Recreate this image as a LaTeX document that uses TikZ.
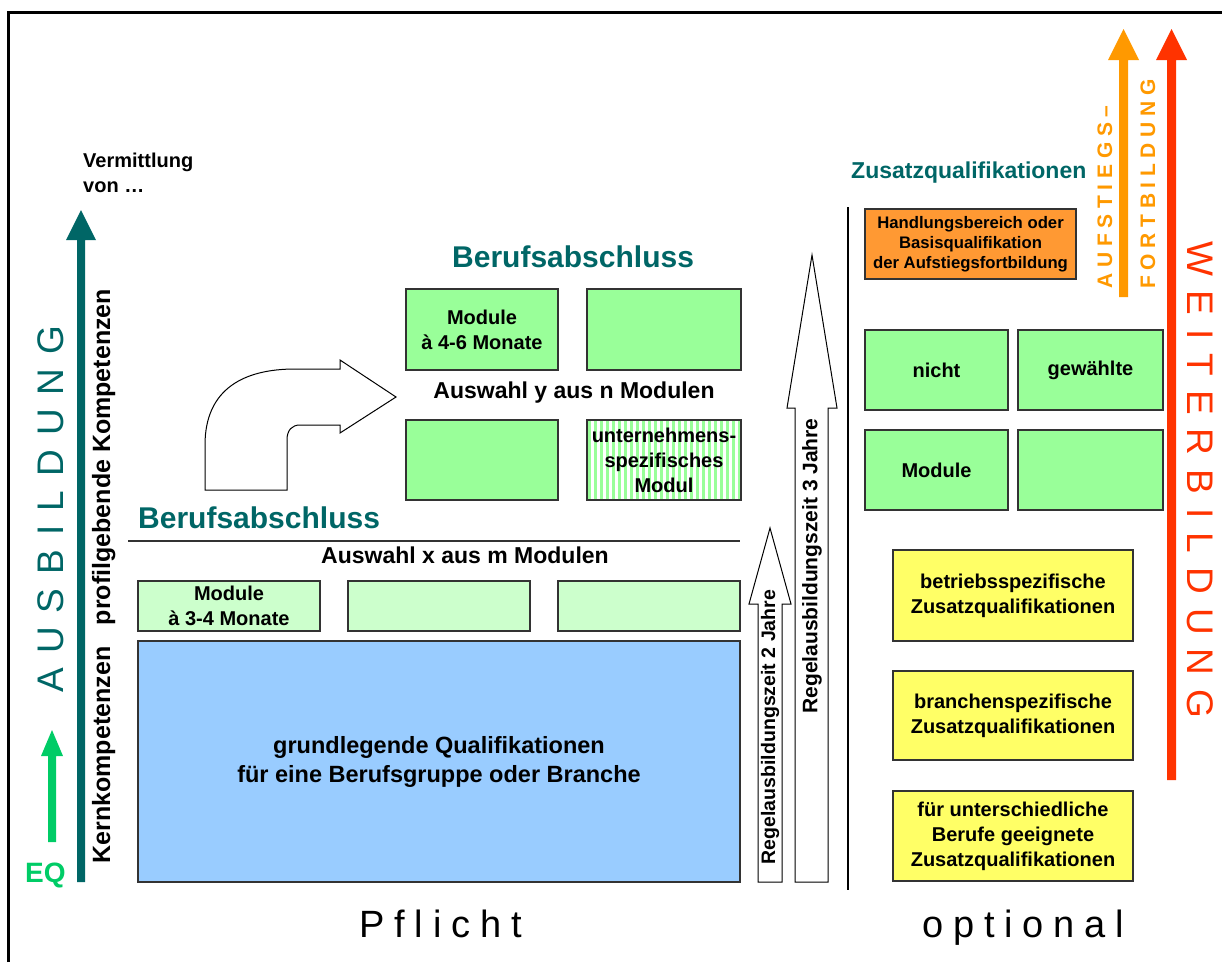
\documentclass[tikz,border=0pt]{standalone}
\usepackage{fontspec}
\setmainfont{Liberation Sans}
\newfontfamily\spreadfont[LetterSpace=38]{Liberation Sans}
\newfontfamily\spreadbold[LetterSpace=27]{Liberation Sans}
\newfontfamily\spreadbase[LetterSpace=26]{Liberation Sans}
\definecolor{tealtext}{HTML}{006666}
\definecolor{eqgreen}{HTML}{00CC66}
\definecolor{lightmod}{HTML}{CCFFCC}
\definecolor{modgreen}{HTML}{99FF99}
\definecolor{basisblue}{HTML}{99CCFF}
\definecolor{orangebox}{HTML}{FF9933}
\definecolor{aufstieg}{HTML}{FF9900}
\definecolor{weiter}{HTML}{FF3300}
\definecolor{zqyellow}{HTML}{FFFF66}
\definecolor{boxline}{HTML}{333333}
\begin{document}
\begin{tikzpicture}[x=1pt,y=-1pt,line join=miter,
		mod/.style={draw=boxline,line width=1.2pt,inner sep=0pt,align=center,font=\bfseries\fontsize{20}{25}\selectfont},
		lab/.style={inner sep=0pt,font=\bfseries\fontsize{23}{29}\selectfont},
		head/.style={inner sep=0pt,anchor=base west,text=tealtext,font=\bfseries\fontsize{30}{36}\selectfont},
		side/.style={inner sep=0pt,rotate=90,anchor=base,font=\bfseries\fontsize{25}{30}\selectfont},
		spread/.style={inner sep=0pt,anchor=base,font=\spreadfont\fontsize{37}{44}\selectfont},
		outline/.style={draw=black,line width=1pt,fill=white}]
	\useasboundingbox (0,0) rectangle (1222,962);
	\draw[line width=3pt] (8,962) -- (8,12) -- (1222,12);

	% Ausbildung
	\node[anchor=north west,inner sep=0pt,align=left,font=\bfseries\fontsize{20}{25}\selectfont] (vermittlung) at (83,153) {Vermittlung\\von …};
	\fill[tealtext] (77,882) -- (77,240) -- (66,240) -- (81,210) -- (96,240) -- (85,240) -- (85,882) -- cycle;
	\fill[eqgreen] (48,842) -- (48,756) -- (41,756) -- (52,730) -- (63,756) -- (56,756) -- (56,842) -- cycle;
	\node[inner sep=0pt,anchor=base west,text=eqgreen,font=\bfseries\fontsize{28}{34}\selectfont] (eq) at (25,882) {EQ};
	\node[spread,rotate=90,text=tealtext] (ausbildung) at (63,509) {AUSBILDUNG};
	\node[side] (kern) at (110,755) {Kernkompetenzen};
	\node[side] (profil) at (110,457) {profilgebende Kompetenzen};

	% Pflichtteil
	\node[mod,fill=basisblue,minimum width=602pt,minimum height=241pt,font=\bfseries\fontsize{23.5}{29}\selectfont] (basis) at (439,761.5) {grundlegende Qualifikationen\\für eine Berufsgruppe oder Branche};
	\node[mod,fill=lightmod,minimum width=182pt,minimum height=50pt] (m1) at (229,606) {Module\\à 3-4 Monate};
	\node[mod,fill=lightmod,minimum width=182pt,minimum height=50pt] (m2) at (439,606) {};
	\node[mod,fill=lightmod,minimum width=182pt,minimum height=50pt] (m3) at (649,606) {};
	\node[lab,anchor=base] (auswahlx) at (465,563) {Auswahl x aus m Modulen};
	\draw[boxline,line width=1.5pt] (128,541) -- (740,541);
	\node[head] (abschluss1) at (138,528) {Berufsabschluss};

	\node[mod,fill=modgreen,minimum width=152pt,minimum height=81pt] (n1) at (482,329.5) {Module\\à 4-6 Monate};
	\node[mod,fill=modgreen,minimum width=154pt,minimum height=81pt] (n2) at (664,329.5) {};
	\node[mod,fill=modgreen,minimum width=152pt,minimum height=80pt] (n3) at (482,460) {};
	\foreach \sx in {588,594,...,738}
		\fill[modgreen] (\sx,420) rectangle (\sx+3,500);
	\node[mod,minimum width=154pt,minimum height=80pt] (n4) at (664,460) {unternehmens-\\spezifisches\\Modul};
	\node[lab,anchor=base] (auswahly) at (574,398) {Auswahl y aus n Modulen};
	\node[head] (abschluss2) at (452,267) {Berufsabschluss};
	\draw[outline] (205,490) -- (205,445) .. controls (205,388) and (245,369) .. (295,369) -- (340,369) -- (340,360) -- (396,397) -- (340,433) -- (340,425) -- (300,425) .. controls (292,425) and (287,430) .. (287,440) -- (287,490) -- cycle;

	\draw[outline] (758,882) -- (758,604) -- (749,604) -- (770,528) -- (791,604) -- (782,604) -- (782,882) -- cycle;
	\draw[outline] (795,882) -- (795,408) -- (787,408) -- (812,255) -- (837,408) -- (828,408) -- (828,882) -- cycle;
	\node[side,anchor=center,font=\bfseries\fontsize{19.5}{24}\selectfont] (zeit2) at (770,727) {Regelausbildungszeit 2 Jahre};
	\node[side,anchor=center,font=\bfseries\fontsize{21}{25}\selectfont] (zeit3) at (812,566) {Regelausbildungszeit 3 Jahre};
	\node[inner sep=0pt,anchor=base west,font=\spreadbase\fontsize{38}{45}\selectfont] (pflicht) at (359,937) {Pflicht};

	% optionaler Teil
	\draw[line width=1.5pt] (848,207) -- (848,890);
	\node[inner sep=0pt,anchor=base west,text=tealtext,font=\bfseries\fontsize{23}{28}\selectfont] (zusatz) at (851,178) {Zusatzqualifikationen};
	\node[mod,fill=orangebox,minimum width=211pt,minimum height=70pt,font=\bfseries\fontsize{16.7}{20}\selectfont] (handlung) at (970.5,244) {Handlungsbereich oder\\Basisqualifikation\\der Aufstiegsfortbildung};
	\node[mod,fill=modgreen,minimum width=143pt,minimum height=80pt] (o1) at (936.5,370) {nicht};
	\node[mod,fill=modgreen,minimum width=145pt,minimum height=80pt] (o2) at (1090.5,370) {gewählte};
	\node[mod,fill=modgreen,minimum width=143pt,minimum height=80pt] (o3) at (936.5,470) {Module};
	\node[mod,fill=modgreen,minimum width=145pt,minimum height=80pt] (o4) at (1090.5,470) {};
	\node[mod,fill=zqyellow,minimum width=240pt,minimum height=91pt] (zq1) at (1013,595.5) {betriebsspezifische\\Zusatzqualifikationen};
	\node[mod,fill=zqyellow,minimum width=240pt,minimum height=89pt] (zq2) at (1013,715.5) {branchenspezifische\\Zusatzqualifikationen};
	\node[mod,fill=zqyellow,minimum width=240pt,minimum height=90pt] (zq3) at (1013,836) {für unterschiedliche\\Berufe geeignete\\Zusatzqualifikationen};
	\node[inner sep=0pt,anchor=base west,font=\spreadbase\fontsize{38}{45}\selectfont] (optional) at (922,937) {optional};

	% Weiterbildung
	\fill[aufstieg] (1119,297) -- (1119,60) -- (1108,60) -- (1123.5,29) -- (1139,60) -- (1128,60) -- (1128,297) -- cycle;
	\fill[weiter] (1167,780) -- (1167,60) -- (1156,60) -- (1171.5,29) -- (1187,60) -- (1176,60) -- (1176,780) -- cycle;
	\node[inner sep=0pt,rotate=90,anchor=base,text=aufstieg,font=\spreadbold\bfseries\fontsize{21}{25}\selectfont] (aufstiegs) at (1112,197) {AUFSTIEGS–};
	\node[inner sep=0pt,rotate=90,anchor=base,text=aufstieg,font=\spreadbold\bfseries\fontsize{21}{25}\selectfont] (fortbildung) at (1155,184) {FORTBILDUNG};
	\node[spread,rotate=-90,text=weiter] (weiterbildung) at (1187,480) {WEITERBILDUNG};
\end{tikzpicture}
\end{document}
